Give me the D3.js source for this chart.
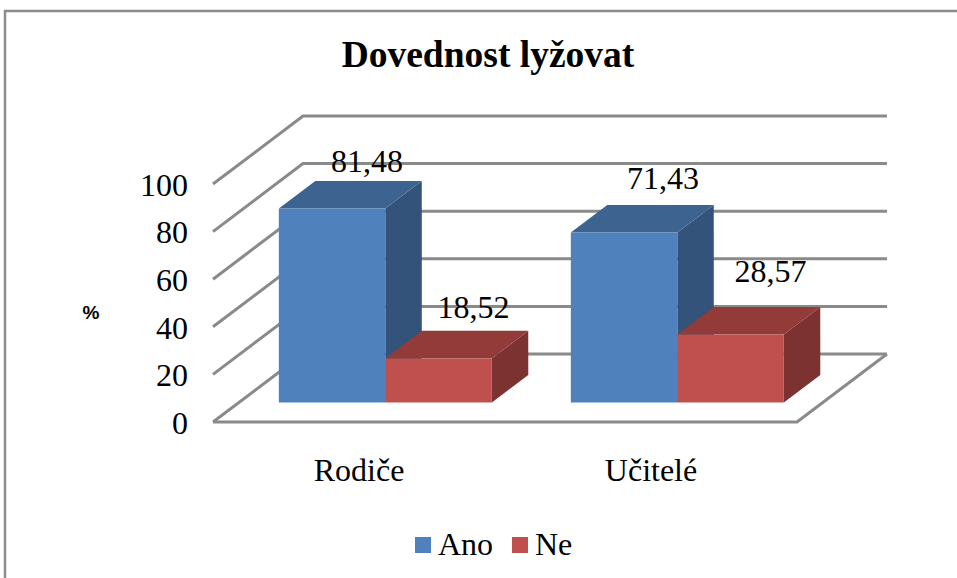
<!DOCTYPE html>
<html>
<head>
<meta charset="utf-8">
<script src="https://cdn.jsdelivr.net/npm/d3@7"></script>
<style>
  html, body { margin: 0; padding: 0; background: #fff; }
  svg { display: block; }
  text { font-family: "Liberation Serif", serif; fill: #000; }
</style>
</head>
<body>
<script>
var categories = ["Rodiče", "Učitelé"];
var seriesNames = ["Ano", "Ne"];
var ano = [81.48, 71.43];
var ne = [18.52, 28.57];
var yTicks = [0, 20, 40, 60, 80, 100];

var width = 957, height = 578;

var svg = d3.select("body").append("svg")
    .attr("width", width)
    .attr("height", height);

// outer frame, right and bottom edges fall outside the picture
svg.append("path")
    .attr("d", "M5,578V11H957")
    .attr("fill", "none")
    .attr("stroke", "#8c8c8c")
    .attr("stroke-width", 2.5);

svg.append("text")
    .attr("x", 488).attr("y", 67)
    .attr("text-anchor", "middle")
    .attr("font-size", 37.5)
    .attr("font-weight", "bold")
    .text("Dovednost lyžovat");

svg.append("text")
    .attr("x", 91).attr("y", 319)
    .attr("text-anchor", "middle")
    .style("font-family", "'Liberation Sans', sans-serif")
    .attr("font-size", 19)
    .attr("font-weight", "bold")
    .text("%");

var x0 = d3.scaleBand().domain(categories).range([213, 797]);
var x1 = d3.scaleBand().domain(seriesNames).range([40, 253]);
var y = d3.scaleLinear().domain([0, 100]).range([422, 184]);

// oblique projection: depth goes from 0 (front) to 1 (back wall)
var depthX = 90, depthY = -68;
var floorFront = 0.287, barDepth = 0.405;

function pt(px, v, depth) {
    return [px + depth * depthX, y(v) + depth * depthY];
}
function poly(points) {
    return points.map(function (p) { return p.join(","); }).join(" ");
}

// walls and floor
var grid = svg.append("g")
    .attr("fill", "none")
    .attr("stroke", "#8a8a8a")
    .attr("stroke-width", 3);

grid.selectAll("polyline").data(yTicks).enter().append("polyline")
    .attr("points", function (d) {
        return poly([pt(213, d, 0), pt(213, d, 1), pt(797, d, 1)]);
    });

grid.append("polyline")
    .attr("points", poly([pt(213, 0, 0), pt(797, 0, 0), pt(797, 0, 1)]));

// bars
var bars = [];
categories.forEach(function (c, i) {
    bars.push({ cat: c, name: "Ano", value: ano[i], front: "#4f81bd", top: "#3d6390", side: "#33537a" });
    bars.push({ cat: c, name: "Ne", value: ne[i], front: "#c0504d", top: "#923b39", side: "#7b3230" });
});

var barG = svg.selectAll("g.bar").data(bars).enter().append("g").attr("class", "bar");

function corners(d) {
    var l = x0(d.cat) + x1(d.name), r = l + x1.bandwidth();
    var a = floorFront, b = floorFront + barDepth;
    return { l: l, r: r, a: a, b: b };
}

barG.append("polygon")
    .attr("fill", function (d) { return d.side; })
    .attr("points", function (d) {
        var c = corners(d);
        return poly([pt(c.r, 0, c.a), pt(c.r, 0, c.b), pt(c.r, d.value, c.b), pt(c.r, d.value, c.a)]);
    });
barG.append("polygon")
    .attr("fill", function (d) { return d.top; })
    .attr("points", function (d) {
        var c = corners(d);
        return poly([pt(c.l, d.value, c.a), pt(c.l, d.value, c.b), pt(c.r, d.value, c.b), pt(c.r, d.value, c.a)]);
    });
barG.append("polygon")
    .attr("fill", function (d) { return d.front; })
    .attr("points", function (d) {
        var c = corners(d);
        return poly([pt(c.l, 0, c.a), pt(c.l, d.value, c.a), pt(c.r, d.value, c.a), pt(c.r, 0, c.a)]);
    });

// value labels, moved by hand in the original so they don't sit evenly
var labelShift = [[35, -37], [35, -40], [39, -43], [40, -52]];
svg.selectAll("text.value").data(bars).enter().append("text")
    .attr("class", "value")
    .attr("text-anchor", "middle")
    .attr("font-size", 32)
    .attr("x", function (d, i) {
        var c = corners(d);
        return pt((c.l + c.r) / 2, d.value, c.a)[0] + labelShift[i][0];
    })
    .attr("y", function (d, i) {
        return pt(0, d.value, floorFront)[1] + labelShift[i][1];
    })
    .text(function (d) { return d3.format(".2f")(d.value).replace(".", ","); });

// axes
var yAxis = svg.append("g")
    .attr("transform", "translate(188,1)")
    .call(d3.axisLeft(y).tickValues(yTicks).tickSize(0).tickPadding(0));
var xAxis = svg.append("g")
    .attr("transform", "translate(0,458)")
    .call(d3.axisBottom(x0).tickSize(0).tickPadding(0));

[yAxis, xAxis].forEach(function (a) {
    a.select(".domain").remove();
    a.selectAll("text")
        .attr("font-size", 32)
        .style("font-family", "'Liberation Serif', serif")
        .attr("fill", "#000");
});

// legend
var legendColor = d3.scaleOrdinal().domain(seriesNames).range(["#4f81bd", "#c0504d"]);
var legendX = d3.scaleOrdinal().domain(seriesNames).range([415, 512]);

var legend = svg.selectAll("g.legend").data(seriesNames).enter().append("g")
    .attr("class", "legend")
    .attr("transform", function (d) { return "translate(" + legendX(d) + ",537)"; });

legend.append("rect")
    .attr("width", 16).attr("height", 16)
    .attr("fill", function (d) { return legendColor(d); });

legend.append("text")
    .attr("x", 23).attr("y", 18)
    .attr("font-size", 32)
    .text(function (d) { return d; });
</script>
</body>
</html>
